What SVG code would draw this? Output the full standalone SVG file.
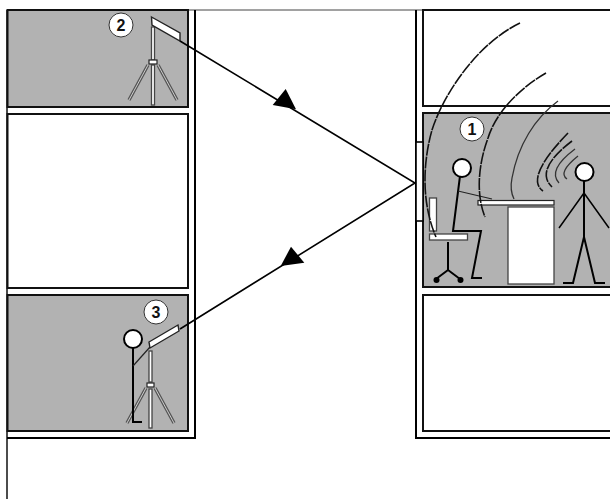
<svg xmlns="http://www.w3.org/2000/svg" width="610" height="499" viewBox="0 0 610 499">
<style>
.wall{fill:none;stroke:#000;stroke-width:2}
.room{fill:#fff;stroke:#111;stroke-width:2}
.lit{fill:#b2b2b2;stroke:#111;stroke-width:2}
.ln{fill:none;stroke:#000;stroke-width:2;stroke-linecap:butt}
.thin{fill:none;stroke:#222;stroke-width:1.2}
.wave{fill:none;stroke:#111;stroke-width:1.6;stroke-dasharray:12 1}
.wave2{fill:none;stroke:#333;stroke-width:1.3}
.part{fill:#fff;stroke:#444;stroke-width:1.3}
.head{fill:#fff;stroke:#000;stroke-width:2}
.leg{fill:none;stroke:#555;stroke-width:3.4}
.legc{fill:none;stroke:#ccc;stroke-width:1}
.badge{fill:#fff;stroke:#333;stroke-width:1}
.num{font-family:"Liberation Sans",Arial,sans-serif;font-size:16px;font-weight:bold;fill:#111;text-anchor:middle}
.conn{fill:none;stroke:#000;stroke-width:1.6}
</style>
<rect width="610" height="499" fill="#fff"/>
<g id="building">
<path d="M7 10H610" fill="none" stroke="#444" stroke-width="1"/>
<path d="M7 10V499" fill="none" stroke="#111" stroke-width="1.5"/>
<path class="wall" d="M195 10V438H7"/>
<path class="wall" d="M416 10V438H610"/>
</g>
<g id="room-2"><rect class="lit" x="7.500" y="10" width="180.500" height="97"/></g>
<g id="room-left-middle"><rect class="room" x="7.500" y="114" width="180.500" height="174"/></g>
<g id="room-3"><rect class="lit" x="7.500" y="295" width="180.500" height="136"/></g>
<g id="room-right-top"><rect class="room" x="423" y="10" width="190" height="96"/></g>
<g id="room-1"><rect class="lit" x="423" y="113" width="190" height="174"/></g>
<g id="room-right-bottom"><rect class="room" x="423" y="295" width="190" height="136"/></g>
<g id="window"><rect x="416" y="142" width="7" height="79" fill="#fff" stroke="#000" stroke-width="1.6"/></g>
<g id="tripod-2">
<path class="leg" d="M148 65L129 100M158 65L177 100"/>
<path class="legc" d="M148 65L129 100M158 65L177 100"/>
<rect class="part" x="151.500" y="65" width="3" height="40"/>
<rect class="part" x="151.500" y="27" width="3" height="33"/>
<rect x="149" y="60" width="8" height="4" fill="#fff" stroke="#222" stroke-width="1.2"/>
<path d="M151.500 17L180 33L180 41L152 25Z" fill="#fff" stroke="#222" stroke-width="1.4"/>
</g>
<g id="tripod-3">
<path class="leg" d="M146 388L127 423M155 388L174 423"/>
<path class="legc" d="M146 388L127 423M155 388L174 423"/>
<rect class="part" x="149" y="389" width="3" height="39"/>
<rect class="part" x="149" y="351" width="3" height="31"/>
<rect x="147" y="383" width="7" height="4" fill="#fff" stroke="#222" stroke-width="1.2"/>
<path d="M149 342L178 325L179 331L150 348Z" fill="#fff" stroke="#222" stroke-width="1.4"/>
</g>
<g id="person-3">
<path class="ln" d="M133 348V422H142"/>
<path class="thin" d="M133 366L150 347"/>
<circle class="head" cx="133" cy="339" r="9"/>
</g>
<g id="chair">
<rect class="part" x="429.500" y="198" width="7" height="33"/>
<rect class="part" x="429.500" y="234" width="38" height="6"/>
<path class="ln" d="M448 242V270L436 279M448 270L460 279"/>
<circle cx="436.500" cy="280" r="3"/><circle cx="460.500" cy="280" r="3"/>
</g>
<g id="desk">
<rect class="part" x="508" y="207" width="46" height="77"/>
<rect x="478" y="200.500" width="76" height="4.500" fill="#fff" stroke="#222" stroke-width="1.2"/>
</g>
<g id="person-1">
<path class="ln" d="M460 176L453 231H481L472 278H482"/>
<path class="thin" d="M458 191L492 199"/>
<circle class="head" cx="462" cy="168" r="9"/>
</g>
<g id="person-standing">
<path class="ln" d="M584 180V237L573 283H563M584 237L595 283H605"/>
<path d="M584 193L559 228M584 193L609 228" fill="none" stroke="#000" stroke-width="1.5"/>
<circle class="head" cx="584.500" cy="172" r="9"/>
</g>
<g id="sound-waves">
<path class="wave" d="M520 23C480 42 445 90 432 130C424 158 420 200 436 237"/>
<path class="wave" d="M546 73C520 88 496 112 488 138C478 165 476 195 485 217"/>
<path class="wave2" d="M558 101C535 118 518 145 512 178C510 188 512 195 514 199"/>
<path class="wave" d="M568 133Q524.500 178 543 191"/>
<path class="wave" d="M572 141Q534 170 552 187"/>
<path class="wave2" d="M575 149Q547 170 559 183"/>
<path class="wave2" d="M578 156Q557.500 172.500 567 179"/>
</g>
<g id="connectors">
<path class="conn" d="M180 41L415 183L180 329"/>
<polygon points="285.700,89 272.700,105 296,109.300"/>
<polygon points="291,246.700 280.700,266 304.300,262.700"/>
</g>
<g id="label-1"><circle class="badge" cx="472" cy="129" r="12"/><text class="num" x="472" y="134.500">1</text></g>
<g id="label-2"><circle class="badge" cx="121" cy="25" r="12"/><text class="num" x="121" y="30.500">2</text></g>
<g id="label-3"><circle class="badge" cx="156" cy="312" r="12"/><text class="num" x="156" y="317.500">3</text></g>
</svg>
